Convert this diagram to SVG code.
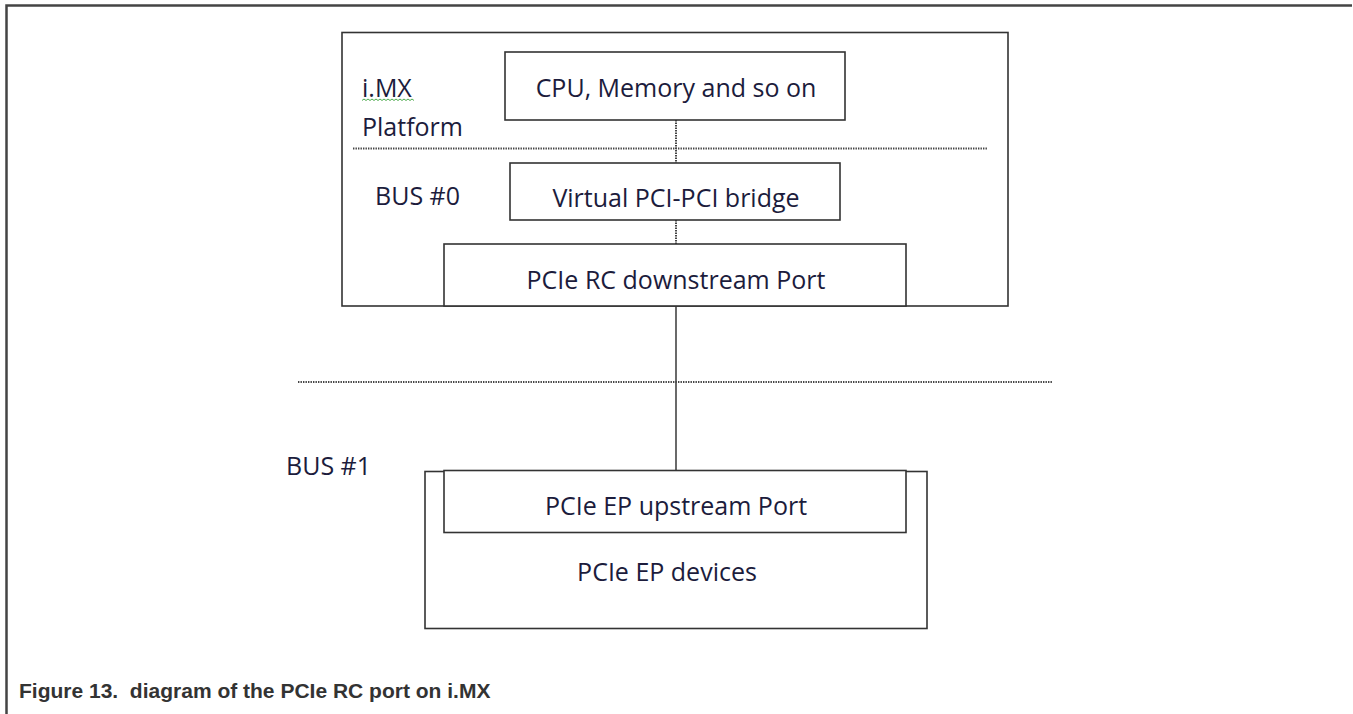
<svg xmlns="http://www.w3.org/2000/svg" width="1353" height="714" viewBox="0 0 1353 714">
<style>
.box{fill:#fff;stroke:#333;stroke-width:1.6}
.lbl{font-family:"Open Sans","Noto Sans",sans-serif;font-size:25px;fill:#1c1c3c}
.dot{stroke:#444;stroke-width:2;stroke-dasharray:1.4,1.1;fill:none}
.cap{font-family:"Liberation Sans",Arial,sans-serif;font-size:21px;font-weight:bold;fill:#333}
</style>
<rect width="1353" height="714" fill="#fff"/>
<g id="frame"><path d="M6.5,714 V5.5 H1352" fill="none" stroke="#444" stroke-width="2.5"/></g>
<g id="platform">
<rect class="box" x="342" y="32.5" width="666" height="273.5"/>
<text class="lbl" x="362" y="97">i.MX</text>
<path d="M362,100.5 l2,-1.5 l2,1.5 l2,-1.5 l2,1.5 l2,-1.5 l2,1.5 l2,-1.5 l2,1.5 l2,-1.5 l2,1.5 l2,-1.5 l2,1.5 l2,-1.5 l2,1.5 l2,-1.5 l2,1.5 l2,-1.5 l2,1.5 l2,-1.5 l2,1.5 l2,-1.5 l2,1.5 l2,-1.5 l2,1.5 l2,-1.5 l2,1.5" fill="none" stroke="#3aa13a" stroke-width="0.9"/>
<text class="lbl" x="362" y="136">Platform</text>
<text class="lbl" x="375" y="205">BUS #0</text>
</g>
<g id="connectors">
<line class="dot" x1="353" y1="148.5" x2="988" y2="148.5"/>
<line class="dot" x1="298" y1="382" x2="1052" y2="382"/>
<line class="dot" x1="676" y1="120" x2="676" y2="163"/>
<line class="dot" x1="676" y1="220" x2="676" y2="244"/>
<line x1="676" y1="306" x2="676" y2="471" stroke="#444" stroke-width="1.6"/>
</g>
<g id="cpu">
<rect class="box" x="505" y="52" width="340" height="68"/>
<text class="lbl" x="676" y="97" text-anchor="middle">CPU, Memory and so on</text>
</g>
<g id="bridge">
<rect class="box" x="510" y="163" width="330" height="57"/>
<text class="lbl" x="676" y="207" text-anchor="middle">Virtual PCI-PCI bridge</text>
</g>
<g id="rc">
<rect class="box" x="444" y="244" width="462" height="62"/>
<text class="lbl" x="676" y="289" text-anchor="middle">PCIe RC downstream Port</text>
</g>
<g id="bus1"><text class="lbl" x="286" y="475">BUS #1</text></g>
<g id="ep-devices">
<rect class="box" x="425" y="471.5" width="502" height="157"/>
<text class="lbl" x="667" y="581" text-anchor="middle">PCIe EP devices</text>
</g>
<g id="ep-port">
<rect class="box" x="444" y="470.5" width="462" height="62"/>
<text class="lbl" x="676" y="515" text-anchor="middle">PCIe EP upstream Port</text>
</g>
<g id="caption"><text class="cap" x="19" y="698" xml:space="preserve">Figure 13.  diagram of the PCIe RC port on i.MX</text></g>
</svg>
